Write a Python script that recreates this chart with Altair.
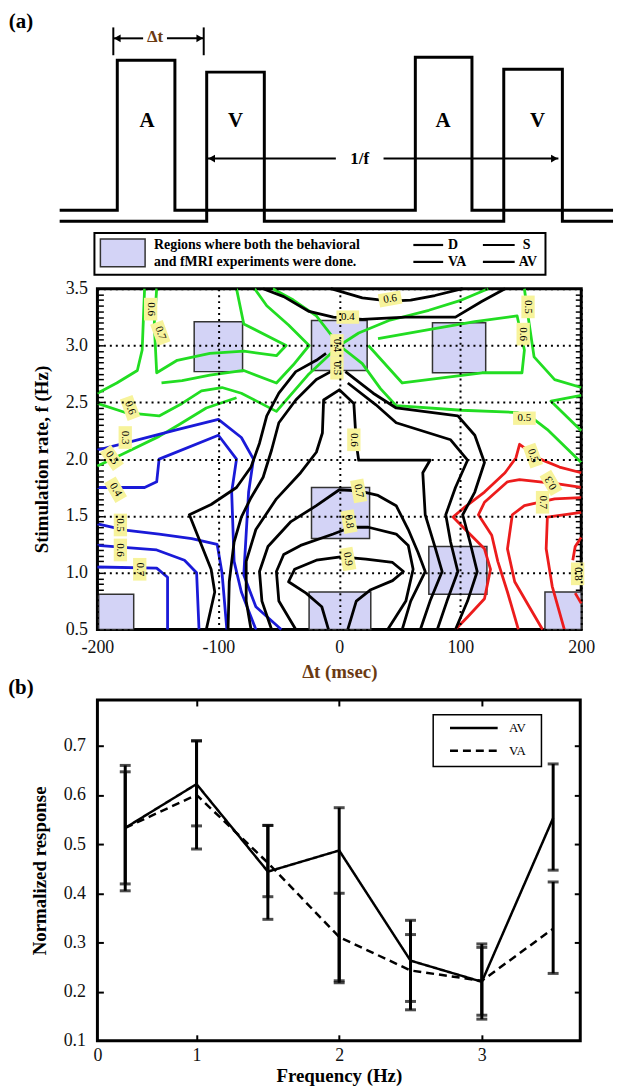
import altair as alt
import pandas as pd

SERIF = "Liberation Serif"
GREEN, BLUE, RED, BLACK = "#22dd22", "#1a1ad8", "#ec1c1c", "#000000"
LAVENDER = "#d3d3f6"
LABEL_BG = "#f7f39b"
BROWN = "#6b3a12"

# ---------------- (a) timing diagram (schematic units) ----------------
A_on, A_off, A_top = [20, 320], [78, 377], [170, 173]
V_on, V_off, V_top = [110, 409], [168, 468], [158, 161]
trace_start, trace_end = -38, 519
A_base, V_base = 19, 8
pulse_letters = ["A", "V", "A", "V"]
letter_x = [50, 139, 348, 443]
letter_y = [109, 109, 109, 109]
dt_bar_x = [16, 107]
dt_seg = [(16, 46), (70, 107)]
dt_y = 192
f_seg = [(111, 240), (288, 464)]
f_y = 71

# ---------------- legend strip ----------------
leg_lines = ["D", "S", "VA", "AV"]
leg_line_x0 = [318, 388, 318, 388]
leg_line_x1 = [348, 420, 348, 420]
leg_line_y = [44, 44, 27, 27]
leg_text_x = [353, 428, 353, 424]
region_text = ["Regions where both the behavioral", "and fMRI experiments were done."]

# ---------------- contour panel ----------------
box_x0 = [-120, -23, 77, -23, 74, -25, 170, -199]
box_x1 = [-80, 23, 121, 25, 122, 26, 200, -170]
box_y0 = [2.77, 2.78, 2.76, 1.30, 0.81, 0.50, 0.50, 0.50]
box_y1 = [3.21, 3.22, 3.20, 1.75, 1.23, 0.83, 0.83, 0.81]

G1 = [(-161, 3.5), (-163, 2.96), (-167, 2.78), (-184, 2.67), (-200, 2.58)]
G2 = [(-151, 3.5), (-153, 3.19), (-151, 2.76), (-134, 2.87), (-107, 2.93), (-79, 2.95), (-52, 2.91), (-44, 3.0), (-79, 3.19), (-85, 3.5)]
G3 = [(-70, 3.5), (-60, 3.35), (-42, 3.18), (-25, 3.0), (-38, 2.83), (-52, 2.67), (-79, 2.78), (-107, 2.74), (-130, 2.69), (-147, 2.67)]
G4 = [(-200, 2.49), (-177, 2.41), (-149, 2.38), (-130, 2.49), (-114, 2.6), (-97, 2.63), (-81, 2.58), (-52, 2.42), (-26, 2.74), (0, 3.0), (16, 3.11), (41, 3.22), (74, 3.31), (101, 3.4), (123, 3.5)]
G5 = [(-200, 1.94), (-182, 2.03), (-149, 2.2), (-133, 2.3), (-110, 2.45), (-85, 2.54)]
G6 = [(-55, 3.5), (-38, 3.4), (-19, 3.26), (0, 3.0), (19, 2.84), (34, 2.62), (47, 2.47), (101, 2.43), (147, 2.41), (161, 2.35), (172, 2.26), (200, 1.97)]
G7 = [(32, 3.06), (74, 3.14), (112, 3.21), (147, 3.26), (153, 2.96), (151, 2.76), (118, 2.76), (52, 2.67), (24, 3.0)]
G8 = [(153, 3.5), (156, 3.26), (161, 2.9), (178, 2.7), (200, 2.63)]
G9 = [(200, 2.56), (175, 2.51), (200, 2.25)]

B1 = [(-200, 2.08), (-177, 2.14), (-134, 2.26), (-100, 2.35), (-81, 2.19), (-71, 2.0), (-75, 1.71), (-79, 0.98), (-69, 0.7), (-48, 0.5)]
B2 = [(-200, 1.75), (-161, 1.75), (-151, 1.8), (-149, 2.0), (-100, 2.21), (-85, 2.0), (-89, 1.71), (-87, 1.1), (-81, 0.83), (-69, 0.5)]
B3 = [(-200, 1.43), (-177, 1.375), (-149, 1.34), (-122, 1.3), (-101, 1.25), (-97, 1.0), (-93, 0.5)]
B4 = [(-200, 1.24), (-151, 1.2), (-128, 1.11), (-118, 1.0), (-116, 0.5)]
B5 = [(-200, 1.05), (-151, 1.04), (-142, 0.96), (-142, 0.5)]

R1 = [(200, 1.88), (182, 1.93), (166, 2.0), (149, 2.13), (146, 2.01), (137, 1.88), (120, 1.71), (104, 1.58), (94, 1.49), (106, 1.36), (120, 1.21), (125, 1.03), (120, 0.77), (106, 0.61), (96, 0.5)]
R2 = [(200, 1.75), (182, 1.78), (166, 1.8), (149, 1.82), (139, 1.8), (120, 1.62), (115, 1.51), (126, 1.33), (131, 1.1), (139, 0.83), (148, 0.5)]
R3 = [(200, 1.66), (178, 1.65), (153, 1.59), (143, 1.51), (139, 1.21), (145, 0.92), (157, 0.7), (168, 0.5)]
R4 = [(200, 1.53), (172, 1.49), (171, 1.21), (176, 0.88), (186, 0.5)]
R5 = [(200, 1.31), (195, 1.23), (193, 1.11)]
R6 = [(195, 0.82), (200, 0.73)]

K1 = [(-7, 3.5), (19, 3.42), (42, 3.39), (59, 3.4), (79, 3.44), (102, 3.5)]
K2 = [(-63, 3.5), (-46, 3.43), (-25, 3.3), (-5, 3.25), (19, 3.23), (55, 3.25), (96, 3.25), (118, 3.39), (137, 3.5)]
K3 = [(-11, 2.93), (-19, 2.87), (-36, 2.77), (-50, 2.58), (-60, 2.38), (-66, 2.14), (-73, 1.93), (-85, 1.75), (-106, 1.6), (-124, 1.51), (-115, 1.27), (-106, 1.03), (-103, 0.83), (-110, 0.5)]
K4 = [(-7, 2.77), (-19, 2.7), (-36, 2.52), (-50, 2.32), (-56, 2.08), (-63, 1.84), (-73, 1.66), (-81, 1.49), (-87, 1.27), (-91, 0.92), (-92, 0.5)]
K5 = [(-73, 0.5), (-77, 0.75), (-77, 1.1), (-69, 1.38), (-52, 1.65), (-32, 1.88), (-19, 2.06), (-14, 2.23), (-13, 2.52), (0, 2.61), (12, 2.49), (14, 2.14), (16, 1.99), (47, 1.99), (75, 1.99), (69, 1.88), (71, 1.51), (79, 1.23), (85, 1.01), (75, 0.75), (67, 0.5)]
K6 = [(-56, 0.5), (-64, 0.75), (-66, 1.01), (-59, 1.23), (-40, 1.45), (-19, 1.59), (0, 1.73), (16, 1.72), (32, 1.68), (47, 1.59), (57, 1.38), (65, 1.18), (71, 1.01), (59, 0.75), (52, 0.5)]
K7 = [(-36, 0.5), (-50, 0.75), (-52, 1.01), (-46, 1.16), (-32, 1.24), (-5, 1.34), (9.5, 1.4), (24, 1.4), (47, 1.34), (57, 1.24), (61, 1.03), (55, 0.75), (40, 0.5)]
K8 = [(-9, 0.5), (-14.5, 0.7), (-27.5, 0.82), (-42, 0.92), (-37, 1.03), (-19, 1.11), (1, 1.14), (22, 1.12), (44, 1.09), (53, 1.01), (44, 0.93), (26, 0.85), (14, 0.75), (7, 0.5)]
K9 = [(5, 2.77), (28, 2.58), (47, 2.45), (98, 2.38), (112, 2.21), (120, 1.97), (112, 1.71), (102, 1.51), (108, 1.27), (114, 1.01), (106, 0.75), (96, 0.5)]
K10 = [(7, 2.67), (30, 2.48), (47, 2.32), (92, 2.17), (106, 1.99), (96, 1.75), (88, 1.51), (92, 1.27), (98, 1.01), (89, 0.75), (81, 0.5)]

contours = {
    "g": [G1, G2, G3, G4, G5, G6, G7, G8, G9],
    "b": [B1, B2, B3, B4, B5],
    "r": [R1, R2, R3, R4, R5, R6],
    "k": [K1, K2, K3, K4, K5, K6, K7, K8, K9, K10],
}

lab_dt = [-156, -148, -173, -177, -188, -185, -181, -181, -165, 7, 42, -2, -2, 12, 156, 152, 153, 160, 175, 168, 197, 16, 8, 7]
lab_f = [3.32, 3.11, 2.45, 2.19, 2.01, 1.73, 1.42, 1.20, 1.03, 3.25, 3.41, 3.0, 2.80, 2.17, 3.34, 3.10, 2.36, 2.03, 1.79, 1.62, 0.99, 1.72, 1.45, 1.12]
lab_txt = ["0.6", "0.7", "0.6", "0.3", "0.5", "0.4", "0.5", "0.6", "0.7", "0.4", "0.6", "0.4", "0.5", "0.6", "0.5", "0.6", "0.5", "0.5", "0.3", "0.7", "0.8", "0.7", "0.8", "0.9"]
lab_ang = [90, 70, 70, 90, 55, 60, 90, 90, 90, 0, 350, 90, 90, 90, 90, 90, 0, 70, 240, 90, 90, 80, 80, 80]

# ---------------- (b) panel ----------------
freq = [0.5, 1.0, 1.5, 2.0, 2.5, 3.0, 3.5]
av = [0.533, 0.622, 0.444, 0.487, 0.263, 0.220, 0.553]
av_lo = [0.405, 0.490, 0.347, 0.218, 0.163, 0.144, 0.447]
av_hi = [0.660, 0.710, 0.538, 0.574, 0.345, 0.297, 0.663]
va = [0.533, 0.600, 0.462, 0.311, 0.243, 0.222, 0.328]
va_lo = [0.419, 0.537, 0.393, 0.222, 0.180, 0.152, 0.237]
va_hi = [0.647, 0.710, 0.538, 0.400, 0.316, 0.290, 0.423]
series_names = ["AV", "VA"]
# legend box of (b), in data units of that panel
bleg_box = (2.659, 3.418, 0.658, 0.763)
bleg_line_x = (2.777, 3.111)
bleg_row_y = [0.736, 0.690]
bleg_text_x = 3.19

W = 487

# ======================= build (a) timing ==========================
def trace(on, off, top, base, name):
    pts = [(trace_start, base)]
    for a, b, h in zip(on, off, top):
        pts += [(a, base), (a, h), (b, h), (b, base)]
    pts.append((trace_end, base))
    return pd.DataFrame({"tx": [p[0] for p in pts], "ty": [p[1] for p in pts],
                         "trace": name, "i": list(range(len(pts)))})

tr_df = pd.concat([trace(A_on, A_off, A_top, A_base, "A"), trace(V_on, V_off, V_top, V_base, "V")])
TX = alt.Scale(domain=[0, W], nice=False, zero=False)
TY = alt.Scale(domain=[0, 217], nice=False, zero=False)

t_lines = alt.Chart(tr_df).mark_line(color="black", strokeWidth=3).encode(
    x=alt.X("tx:Q", scale=TX, axis=None), y=alt.Y("ty:Q", scale=TY, axis=None),
    detail="trace:N", order="i:Q")

seg_df = pd.DataFrame({"tx": [s[0] for s in dt_seg] + [s[0] for s in f_seg],
                       "tx2": [s[1] for s in dt_seg] + [s[1] for s in f_seg],
                       "ty": [dt_y, dt_y, f_y, f_y]})
t_segs = alt.Chart(seg_df).mark_rule(color="black", strokeWidth=2).encode(
    x=alt.X("tx:Q", scale=TX, axis=None), x2="tx2:Q", y=alt.Y("ty:Q", scale=TY, axis=None))

bar_df = pd.DataFrame({"tx": dt_bar_x, "ty": [175, 175], "ty2": [203, 203]})
t_bars = alt.Chart(bar_df).mark_rule(color="black", strokeWidth=2).encode(
    x=alt.X("tx:Q", scale=TX, axis=None), y=alt.Y("ty:Q", scale=TY, axis=None), y2="ty2:Q")

head_df = pd.DataFrame({"tx": [dt_seg[0][0] + 4, dt_seg[1][1] - 4, f_seg[0][0] + 4, f_seg[1][1] - 4],
                        "ty": [dt_y, dt_y, f_y, f_y],
                        "shape": ["triangle-left", "triangle-right", "triangle-left", "triangle-right"]})
t_heads = alt.Chart(head_df).mark_point(filled=True, color="black", size=60, opacity=1).encode(
    x=alt.X("tx:Q", scale=TX, axis=None), y=alt.Y("ty:Q", scale=TY, axis=None),
    shape=alt.Shape("shape:N", scale=None))

let_df = pd.DataFrame({"tx": letter_x, "ty": letter_y, "t": pulse_letters})
t_letters = alt.Chart(let_df).mark_text(font=SERIF, fontSize=21, fontWeight="bold", color="black").encode(
    x=alt.X("tx:Q", scale=TX, axis=None), y=alt.Y("ty:Q", scale=TY, axis=None), text="t:N")

ann_df = pd.DataFrame({"tx": [58, 264, -77], "ty": [dt_y + 1, f_y, 208], "t": ["Δt", "1/f", "(a)"],
                       "c": [BROWN, "black", "black"], "s": [17, 17, 21]})
t_ann = alt.Chart(ann_df).mark_text(font=SERIF, fontWeight="bold").encode(
    x=alt.X("tx:Q", scale=TX, axis=None), y=alt.Y("ty:Q", scale=TY, axis=None), text="t:N",
    color=alt.Color("c:N", scale=None), size=alt.Size("s:Q", scale=None))

timing = alt.layer(t_lines, t_segs, t_bars, t_heads, t_letters, t_ann).properties(
    width=W, height=217, view=alt.ViewBackground(stroke=None))

# ======================= legend strip ==========================
LX = alt.Scale(domain=[0, W], nice=False, zero=False)
LY = alt.Scale(domain=[0, 60], nice=False, zero=False)
frame_df = pd.DataFrame({"lx": [-3], "lx2": [451], "ly": [14], "ly2": [56]})
l_frame = alt.Chart(frame_df).mark_rect(fill="white", stroke="black", strokeWidth=2).encode(
    x=alt.X("lx:Q", scale=LX, axis=None), x2="lx2:Q", y=alt.Y("ly:Q", scale=LY, axis=None), y2="ly2:Q")
sw_df = pd.DataFrame({"lx": [3], "lx2": [48], "ly": [22], "ly2": [50]})
l_sw = alt.Chart(sw_df).mark_rect(fill=LAVENDER, stroke="#333", strokeWidth=1.5).encode(
    x=alt.X("lx:Q", scale=LX, axis=None), x2="lx2:Q", y=alt.Y("ly:Q", scale=LY, axis=None), y2="ly2:Q")
rt_df = pd.DataFrame({"lx": [57, 57], "ly": [44, 27], "t": region_text})
l_rt = alt.Chart(rt_df).mark_text(font=SERIF, fontSize=14, fontWeight="bold", align="left", color="black").encode(
    x=alt.X("lx:Q", scale=LX, axis=None), y=alt.Y("ly:Q", scale=LY, axis=None), text="t:N")
ll_df = pd.DataFrame({"lx": leg_line_x0, "lx2": leg_line_x1, "ly": leg_line_y})
l_ll = alt.Chart(ll_df).mark_rule(color="black", strokeWidth=2.2).encode(
    x=alt.X("lx:Q", scale=LX, axis=None), x2="lx2:Q", y=alt.Y("ly:Q", scale=LY, axis=None))
lt_df = pd.DataFrame({"lx": leg_text_x, "ly": leg_line_y, "t": leg_lines})
l_lt = alt.Chart(lt_df).mark_text(font=SERIF, fontSize=14, fontWeight="bold", align="left", color="black").encode(
    x=alt.X("lx:Q", scale=LX, axis=None), y=alt.Y("ly:Q", scale=LY, axis=None), text="t:N")
legend_strip = alt.layer(l_frame, l_sw, l_rt, l_ll, l_lt).properties(
    width=W, height=60, view=alt.ViewBackground(stroke=None))

# ======================= contour panel ==========================
rows = []
for fam, lines in contours.items():
    for li, pts in enumerate(lines):
        for i, (d, f) in enumerate(pts):
            rows.append({"dt": d, "f": f, "line": f"{fam}{li}", "fam": fam, "i": i})
lines_df = pd.DataFrame(rows)
boxes_df = pd.DataFrame({"dt": box_x0, "dt2": box_x1, "f": box_y0, "f2": box_y1})
labels_df = pd.DataFrame({"dt": lab_dt, "f": lab_f, "txt": lab_txt, "ang": lab_ang})

CX = alt.Scale(domain=[-200, 200], nice=False, zero=False)
CY = alt.Scale(domain=[0.5, 3.5], nice=False, zero=False)
minor = [round(0.5 + 0.05 * k, 2) for k in range(61)]

main_x_axis = alt.Axis(orient="bottom", values=[-200, -100, 0, 100, 200], labelExpr="'' + datum.value",
                       grid=True, gridDash=[2, 4], gridColor="black", gridWidth=2, ticks=False, domain=False,
                       labelFlush=False, labelOverlap=False,
                       labelFont=SERIF, labelFontSize=18, labelColor="#111", labelPadding=9,
                       title="Δt (msec)", titleFont=SERIF, titleFontSize=19, titleFontWeight="bold",
                       titleColor=BROWN, titlePadding=6, zindex=1)
main_y_axis = alt.Axis(orient="left", values=[0.5, 1, 1.5, 2, 2.5, 3, 3.5], format=".1f", grid=True,
                       gridDash=[2, 4], gridColor="black", gridWidth=2, ticks=False, domain=False,
                       labelFlush=False, labelOverlap=False,
                       labelFont=SERIF, labelFontSize=18, labelColor="#111", labelPadding=10,
                       title="Stimulation rate, f (Hz)", titleFont=SERIF, titleFontSize=19,
                       titleFontWeight="bold", titleColor="black", titlePadding=14, zindex=1)

c_boxes = alt.Chart(boxes_df).mark_rect(fill=LAVENDER, stroke="#333", strokeWidth=1.5).encode(
    x=alt.X("dt:Q", scale=CX, axis=None), x2="dt2:Q",
    y=alt.Y("f:Q", scale=CY, axis=alt.Axis(orient="left", offset=-6, tickSize=6, tickWidth=1.5,
                                           tickColor="black", values=minor, labels=False, domain=False,
                                           grid=False, title=None)),
    y2="f2:Q")
c_lines = alt.Chart(lines_df).mark_line(strokeWidth=2.8, strokeJoin="round").encode(
    x=alt.X("dt:Q", scale=CX, axis=main_x_axis),
    y=alt.Y("f:Q", scale=CY, axis=main_y_axis),
    color=alt.Color("fam:N", scale=alt.Scale(domain=["g", "b", "r", "k"], range=[GREEN, BLUE, RED, BLACK]),
                    legend=None),
    detail="line:N", order="i:Q")
c_lbox = alt.Chart(labels_df).mark_point(shape="M-0.85,-0.5L0.85,-0.5L0.85,0.5L-0.85,0.5Z", filled=True,
                                         color=LABEL_BG, opacity=1, size=720).encode(
    x=alt.X("dt:Q", scale=CX, axis=None),
    y=alt.Y("f:Q", scale=CY, axis=alt.Axis(orient="right", offset=-6, tickSize=6, tickWidth=1.5,
                                           tickColor="black", values=minor, labels=False, domain=False,
                                           grid=False, title=None)),
    angle=alt.Angle("ang:Q", scale=None))
c_ltxt = alt.Chart(labels_df).mark_text(font=SERIF, fontSize=11, color="black").encode(
    x=alt.X("dt:Q", scale=CX, axis=None), y=alt.Y("f:Q", scale=CY, axis=None),
    text="txt:N", angle=alt.Angle("ang:Q", scale=None))

contour = alt.layer(c_boxes, c_lines, c_lbox, c_ltxt).resolve_axis(y="independent", x="independent").properties(
    width=W, height=343, view=alt.ViewBackground(stroke="black", strokeWidth=3))

# ======================= spacer with (b) ==========================
spacer = alt.Chart(pd.DataFrame({"t": ["(b)"]})).mark_text(
    font=SERIF, fontSize=21, fontWeight="bold", color="black").encode(
    text="t:N", x=alt.value(-77), y=alt.value(59)).properties(
    width=W, height=71, view=alt.ViewBackground(stroke=None))

# ======================= (b) panel ==========================
BX = alt.Scale(domain=[0.305, 3.69], nice=False, zero=False)
BY = alt.Scale(domain=[0.1, 0.793], nice=False, zero=False)
line_df = pd.DataFrame({"freq": freq * 2, "resp": av + va, "series": ["AV"] * 7 + ["VA"] * 7})
err_df = pd.DataFrame({"freq": freq * 2, "lo": av_lo + va_lo, "hi": av_hi + va_hi})
cap_df = pd.DataFrame({"freq": freq * 4, "resp": av_lo + av_hi + va_lo + va_hi})
inner_y = [0.2, 0.3, 0.4, 0.5, 0.6, 0.7]
DASH = alt.StrokeDash("series:N", scale=alt.Scale(domain=series_names, range=[[1, 0], [8, 5]]), legend=None)

b_lines = alt.Chart(line_df).mark_line(color="black", strokeWidth=2.5).encode(
    x=alt.X("freq:Q", scale=BX, axis=alt.Axis(orient="bottom", values=[0.305, 1, 2, 3], format=".0f",
                                              ticks=False, domain=False, grid=False, labelFont=SERIF,
                                              labelFlush=False, labelOverlap=False,
                                              labelFontSize=18, labelColor="#111", labelPadding=6,
                                              title="Frequency (Hz)", titleFont=SERIF, titleFontSize=19,
                                              titleFontWeight="bold", titleColor="black", titlePadding=2)),
    y=alt.Y("resp:Q", scale=BY, axis=alt.Axis(orient="left", values=[0.1, 0.2, 0.3, 0.4, 0.5, 0.6, 0.7],
                                              format=".1f", ticks=False, domain=False, grid=False,
                                              labelFlush=False, labelOverlap=False,
                                              labelFont=SERIF, labelFontSize=18, labelColor="#111",
                                              labelPadding=12, title="Normalized response", titleFont=SERIF,
                                              titleFontSize=19, titleFontWeight="bold", titleColor="black",
                                              titlePadding=14)),
    strokeDash=DASH)
b_err = alt.Chart(err_df).mark_rule(color="black", strokeWidth=3).encode(
    x=alt.X("freq:Q", scale=BX, axis=alt.Axis(orient="bottom", offset=-6, tickSize=6, tickWidth=2,
                                              tickColor="black", values=[1, 2, 3], labels=False,
                                              domain=False, grid=False, title=None)),
    y=alt.Y("lo:Q", scale=BY, axis=alt.Axis(orient="left", offset=-6, tickSize=6, tickWidth=2,
                                            tickColor="black", values=inner_y, labels=False,
                                            domain=False, grid=False, title=None)),
    y2="hi:Q")
b_caps = alt.Chart(cap_df).mark_tick(orient="horizontal", color="black", size=11, thickness=3).encode(
    x=alt.X("freq:Q", scale=BX, axis=alt.Axis(orient="top", offset=-6, tickSize=6, tickWidth=2,
                                              tickColor="black", values=[1, 2, 3], labels=False,
                                              domain=False, grid=False, title=None)),
    y=alt.Y("resp:Q", scale=BY, axis=alt.Axis(orient="right", offset=-6, tickSize=6, tickWidth=2,
                                              tickColor="black", values=inner_y, labels=False,
                                              domain=False, grid=False, title=None)))

# hand-built legend (box, sample lines, labels) in panel data units
bl_box = pd.DataFrame({"freq": [bleg_box[0]], "freq2": [bleg_box[1]], "resp": [bleg_box[2]], "resp2": [bleg_box[3]]})
b_lbox = alt.Chart(bl_box).mark_rect(fill="white", stroke="black", strokeWidth=1.5).encode(
    x=alt.X("freq:Q", scale=BX, axis=None), x2="freq2:Q", y=alt.Y("resp:Q", scale=BY, axis=None), y2="resp2:Q")
bl_lines = pd.DataFrame({"freq": [bleg_line_x[0]] * 2, "freq2": [bleg_line_x[1]] * 2, "resp": bleg_row_y,
                         "series": series_names})
b_lsym = alt.Chart(bl_lines).mark_rule(color="black", strokeWidth=2.5).encode(
    x=alt.X("freq:Q", scale=BX, axis=None), x2="freq2:Q", y=alt.Y("resp:Q", scale=BY, axis=None),
    strokeDash=DASH)
bl_text = pd.DataFrame({"freq": [bleg_text_x] * 2, "resp": bleg_row_y, "series": series_names})
b_ltxt = alt.Chart(bl_text).mark_text(font=SERIF, fontSize=13, align="left", color="black").encode(
    x=alt.X("freq:Q", scale=BX, axis=None), y=alt.Y("resp:Q", scale=BY, axis=None), text="series:N")

panel_b = alt.layer(b_lines, b_err, b_caps, b_lbox, b_lsym, b_ltxt).resolve_axis(
    x="independent", y="independent").properties(
    width=486, height=343, view=alt.ViewBackground(stroke="black", strokeWidth=3))

chart = alt.vconcat(timing, legend_strip, contour, spacer, panel_b, spacing=0, bounds="flush").resolve_scale(
    color="independent", strokeDash="independent").configure_view(stroke=None).properties(padding=0)

chart.save("out.html", embed_options={"renderer": "svg", "actions": False})
